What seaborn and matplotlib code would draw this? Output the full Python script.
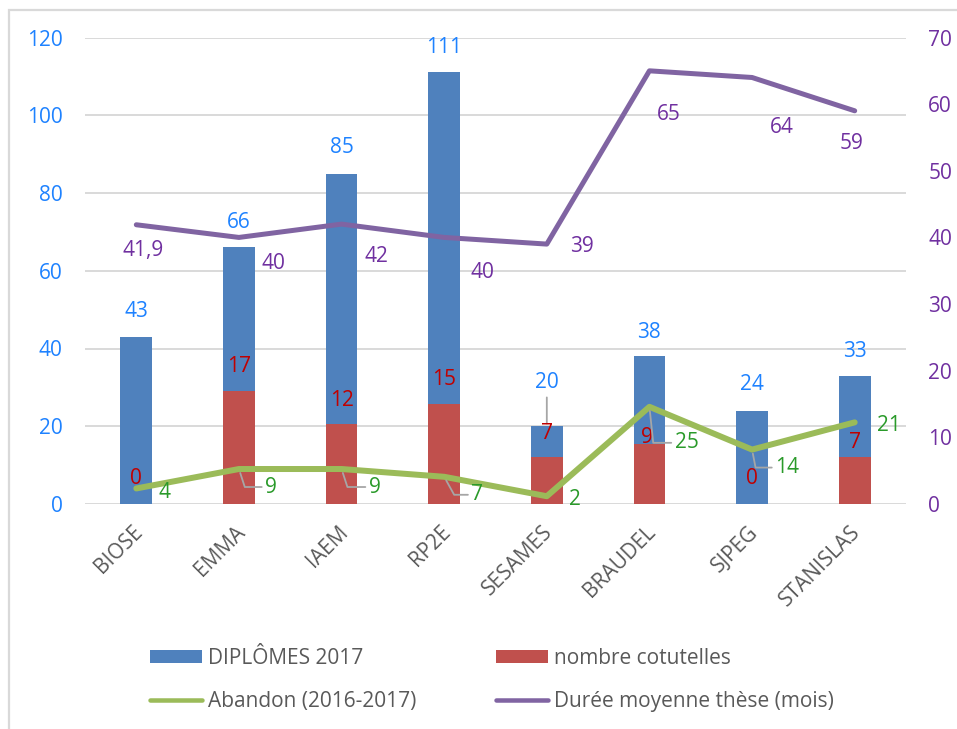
import numpy as np
import pandas as pd
import matplotlib
matplotlib.use("Agg")
import matplotlib.pyplot as plt
import seaborn as sns
from matplotlib.patches import Patch, Rectangle
from matplotlib.lines import Line2D
from matplotlib.transforms import ScaledTranslation

# ---------------- data ----------------
categories = ["BIOSE", "EMMA", "IAEM", "RP2E", "SESAMES", "BRAUDEL", "SJPEG", "STANISLAS"]
diplomes = [43, 66, 85, 111, 20, 38, 24, 33]
cotutelles = [0, 17, 12, 15, 7, 9, 0, 7]
abandon = [4, 9, 9, 7, 2, 25, 14, 21]
duree = [41.9, 40, 42, 40, 39, 65, 64, 59]
left_ticks = [0, 20, 40, 60, 80, 100, 120]
right_ticks = [0, 10, 20, 30, 40, 50, 60, 70]
series_names = ["DIPLÔMES 2017", "nombre cotutelles", "Abandon (2016-2017)", "Durée moyenne thèse (mois)"]

# ---------------- style ----------------
BLUE, RED, GREEN, PURPLE = "#4F81BD", "#C0504D", "#9BBB59", "#8064A2"
BLUE_TXT, RED_TXT, GREEN_TXT, PURPLE_TXT = "#1E82FF", "#C00000", "#2A9A2A", "#7030A0"
GRAY_TXT, GRID, LEADER = "#595959", "#D9D9D9", "#A6A6A6"
FS = 15
DPI = 100
PX = 72.0 / DPI  # pixels -> points

sns.set_theme(style="white")
plt.rcParams["font.family"] = ["Open Sans", "DejaVu Sans"]

df = pd.DataFrame({"cat": categories, "dip": diplomes, "cot": cotutelles,
                   "ab": abandon, "du": duree})

fig = plt.figure(figsize=(9.57, 7.29), dpi=DPI)
ax = fig.add_axes([85 / 957, 1 - 504 / 729, (906 - 85) / 957, (504 - 37.5) / 729])
ax2 = ax.twinx()
ax3 = ax.twinx()

sns.barplot(data=df, x="cat", y="dip", color=BLUE, saturation=1, width=0.31,
            errorbar=None, ax=ax, zorder=2, linewidth=0, edgecolor="none")
sns.barplot(data=df, x="cat", y="cot", color=RED, saturation=1, width=0.31,
            errorbar=None, ax=ax2, zorder=2, linewidth=0, edgecolor="none")
sns.lineplot(data=df, x="cat", y="du", color=PURPLE, linewidth=5 * PX, sort=False,
             solid_capstyle="round", solid_joinstyle="round", ax=ax2, zorder=3)
sns.lineplot(data=df, x="cat", y="ab", color=GREEN, linewidth=6 * PX, sort=False,
             solid_capstyle="round", solid_joinstyle="round", ax=ax3, zorder=3)

n = len(categories)
for a in (ax, ax2, ax3):
    a.set_xlim(-0.5, n - 0.5)
    a.set_xlabel("")
    a.set_ylabel("")
    for s in a.spines.values():
        s.set_visible(False)

ax.set_ylim(0, 120)
ax3.set_ylim(0, 120)
ax2.set_ylim(0, 70)
ax.set_yticks(left_ticks)
ax2.set_yticks(right_ticks)
ax3.yaxis.set_visible(False)
ax2.grid(False)
ax3.grid(False)
ax.grid(False)
ax.yaxis.grid(True, color=GRID, linewidth=1.4)
ax.set_axisbelow(True)

ax.tick_params(axis="y", length=0, pad=16, labelsize=FS, labelcolor=BLUE_TXT)
ax2.tick_params(axis="y", length=0, pad=16, labelsize=FS, labelcolor=PURPLE_TXT)
ax.tick_params(axis="x", length=0, pad=18, labelsize=FS, labelcolor=GRAY_TXT)
ax.set_xticks(range(n))
ax.set_xticklabels(categories)
shift = ScaledTranslation(3 / DPI, 0, fig.dpi_scale_trans)
for lbl in ax.get_xticklabels():
    lbl.set_rotation(45)
    lbl.set_ha("right")
    lbl.set_va("center")
    lbl.set_rotation_mode("anchor")
    lbl.set_transform(lbl.get_transform() + shift)

# ---------------- data labels (offsets in pixels) ----------------
blue_off = [(0, 25), (0, 25), (0, 26), (0, 25), (0, 44), (0, 24), (0, 26), (0, 24)]
red_off = [(0, 25), (0, 24), (0, 24), (0, 25), (0, 24), (-2, 7), (0, 26), (0, 15)]
green_off = [(28, -4), (32, -18), (33, -18), (33, -18), (28, -3), (37, -36), (35, -18), (34, -3)]
green_leader = [None, -72, -72, -61, None, -84, -79, None]
purple_off = [(7, -26), (35, -26), (35, -32), (38, -35), (35, -2), (19, -44), (30, -50), (-3, -33)]


def fmt(v):
    return f"{v:g}".replace(".", ",")


for i, c in enumerate(categories):
    dx, dy = blue_off[i]
    kw = {}
    if i == 4:
        kw["arrowprops"] = dict(arrowstyle="-", color=LEADER, lw=1.3, shrinkA=1,
                                shrinkB=2, relpos=(0.5, 0))
    ax.annotate(fmt(diplomes[i]), xy=(c, diplomes[i]), xytext=(dx * PX, dy * PX),
                textcoords="offset points", ha="center", va="center",
                fontsize=FS, color=BLUE_TXT, **kw)

    dx, dy = red_off[i]
    ax2.annotate(fmt(cotutelles[i]), xy=(c, cotutelles[i]), xytext=(dx * PX, dy * PX),
                 textcoords="offset points", ha="center", va="center",
                 fontsize=FS, color=RED_TXT, zorder=5)

    dx, dy = purple_off[i]
    ax2.annotate(fmt(duree[i]), xy=(c, duree[i]), xytext=(dx * PX, dy * PX),
                 textcoords="offset points", ha="center", va="center",
                 fontsize=FS, color=PURPLE_TXT, zorder=5)

    dx, dy = green_off[i]
    kw = {}
    if green_leader[i] is not None:
        kw["arrowprops"] = dict(arrowstyle="-", color=LEADER, lw=1.3, shrinkA=0,
                                shrinkB=3, relpos=(0, 0.5),
                                connectionstyle=f"angle,angleA=0,angleB={green_leader[i]},rad=0")
    ax3.annotate(fmt(abandon[i]), xy=(c, abandon[i]), xytext=(dx * PX, dy * PX),
                 textcoords="offset points", ha="center", va="center",
                 fontsize=FS, color=GREEN_TXT, zorder=5, **kw)

# ---------------- legend ----------------
handles = [Patch(facecolor=BLUE, edgecolor="none"),
           Line2D([], [], color=GREEN, lw=4.5 * PX, solid_capstyle="round"),
           Patch(facecolor=RED, edgecolor="none"),
           Line2D([], [], color=PURPLE, lw=4.5 * PX, solid_capstyle="round")]
labels = [series_names[0], series_names[2], series_names[1], series_names[3]]
fig.legend(handles, labels, loc="upper left", bbox_to_anchor=(150 / 957, 1 - 648 / 729),
           ncol=2, frameon=False, fontsize=FS, labelcolor=GRAY_TXT,
           handlelength=2.5, handleheight=0.55, handletextpad=0.3, columnspacing=3.8,
           labelspacing=1.05, borderpad=0, borderaxespad=0)

# outer frame (left and top edges visible)
fig.add_artist(Rectangle((9 / 957, -0.1), 1.2, 1.1 - 10 / 729, transform=fig.transFigure,
                         fill=False, edgecolor=GRID, linewidth=1.6))

fig.savefig("out.png", dpi=DPI, facecolor="white")
